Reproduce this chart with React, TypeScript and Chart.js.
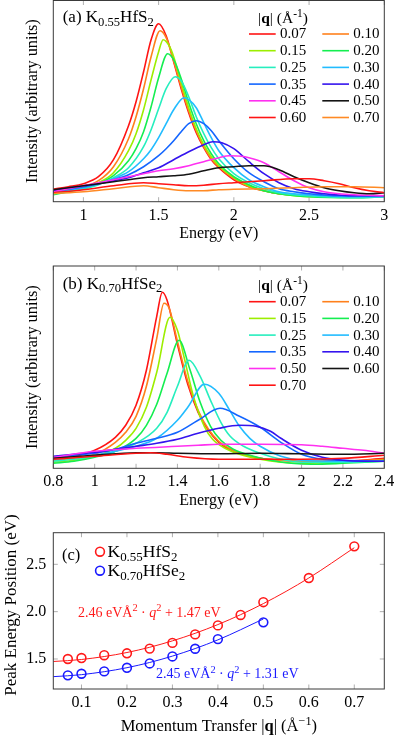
import React, { useEffect, useRef } from 'react';
import { Chart, registerables } from 'chart.js';
Chart.register(...registerables);

const FONT = '"Liberation Serif", "Times New Roman", serif';
const W = 399;
const H = 738;
const XH = 30;

// ---------- Panel (a) K0.55HfS2 : intensity (arb. units) vs energy (eV) ----------
const qLabelsA = ['0.07', '0.10', '0.15', '0.20', '0.25', '0.30', '0.35', '0.40', '0.45', '0.50', '0.60', '0.70'];
const colorsA = ['#ff1414', '#ff801c', '#9cee00', '#14ee50', '#26eebe', '#22bcff', '#1466ff', '#3414ee', '#ff30f0', '#141414', '#ff1414', '#ff8a24'];
const a_q007 = [[0.8,12.7],[0.9,15],[1.0,18],[1.1,25],[1.2,42],[1.3,76],[1.35,100],[1.4,130],[1.45,162],[1.5,178],[1.55,166],[1.6,140],[1.65,113],[1.7,89],[1.75,69],[1.8,54],[1.85,42],[1.9,34],[2.0,22],[2.1,15],[2.2,11],[2.3,8],[2.5,6],[2.8,5],[3.0,6]];
const a_q010 = [[0.8,10],[0.9,12.5],[1.0,15],[1.1,21],[1.2,35],[1.3,63],[1.35,85],[1.4,113],[1.45,145],[1.51,171],[1.55,164],[1.6,141],[1.65,115],[1.7,91],[1.75,71],[1.8,55],[1.85,43],[1.9,35],[2.0,23],[2.1,15],[2.2,11],[2.3,8],[2.5,6],[2.8,5],[3.0,6]];
const a_q015 = [[0.8,9],[0.9,11],[1.0,14],[1.1,19],[1.2,29],[1.3,51],[1.35,68],[1.4,92],[1.45,122],[1.5,150],[1.53,162],[1.57,156],[1.6,145],[1.65,119],[1.7,94],[1.75,73],[1.8,57],[1.85,45],[1.9,36],[2.0,24],[2.1,16],[2.2,11],[2.3,8],[2.5,5],[2.8,5],[3.0,6]];
const a_q020 = [[0.8,7],[0.9,10],[1.0,13],[1.1,18],[1.2,26],[1.3,41],[1.35,53],[1.4,70],[1.45,95],[1.5,124],[1.56,148],[1.6,142],[1.65,123],[1.7,99],[1.75,78],[1.8,61],[1.85,48],[1.9,38],[2.0,25],[2.1,17],[2.2,11],[2.3,8],[2.5,5],[2.8,4],[3.0,5]];
const a_q025 = [[0.8,8],[0.9,10.5],[1.0,13],[1.1,17],[1.2,24],[1.3,34],[1.4,55],[1.45,72],[1.5,93],[1.55,113],[1.61,125],[1.65,121],[1.7,105],[1.75,85],[1.8,68],[1.85,54],[1.9,43],[2.0,28],[2.1,19],[2.2,13],[2.3,9],[2.4,7],[2.6,5],[2.8,4],[3.0,5]];
const a_q030 = [[0.8,9],[0.9,11.5],[1.0,14],[1.1,18],[1.2,23],[1.3,30],[1.4,43],[1.45,52],[1.5,64],[1.55,78],[1.6,92],[1.67,104],[1.7,102],[1.75,94],[1.8,79],[1.85,64],[1.9,51],[2.0,34],[2.1,22],[2.2,15],[2.3,10],[2.4,8],[2.6,6],[2.8,5],[3.0,5]];
const a_q035 = [[0.8,10],[0.9,12.5],[1.0,15],[1.1,18],[1.2,22],[1.3,27],[1.4,35],[1.5,46],[1.55,53],[1.6,61],[1.65,70],[1.7,78],[1.75,81],[1.8,78],[1.85,71],[1.9,61],[2.0,43],[2.1,29],[2.2,20],[2.3,13],[2.4,10],[2.5,8],[2.7,6],[3.0,6]];
const a_q040 = [[0.8,11],[0.9,13.5],[1.0,16],[1.1,18],[1.2,21],[1.3,24],[1.4,29],[1.5,34],[1.6,42],[1.7,50],[1.8,57],[1.86,60],[1.92,59],[2.0,53],[2.1,40],[2.2,28],[2.3,19],[2.4,13],[2.5,10],[2.6,8],[2.8,6],[3.0,6]];
const a_q045 = [[0.8,10],[0.9,13],[1.0,16],[1.1,19],[1.2,22],[1.3,25],[1.4,28],[1.5,31],[1.6,33],[1.7,36],[1.8,40],[1.9,44],[1.97,46],[2.05,45.5],[2.1,44],[2.2,39],[2.3,30],[2.4,21],[2.5,14],[2.6,10],[2.7,8],[2.8,7],[3.0,6]];
const a_q050 = [[0.8,12],[0.9,14],[1.0,16],[1.1,18],[1.2,20],[1.3,22],[1.4,24],[1.5,25],[1.6,26],[1.7,27.5],[1.8,31],[1.9,34],[2.0,35],[2.1,36],[2.2,36],[2.3,32],[2.4,25],[2.5,19],[2.6,14],[2.7,11],[2.8,9],[2.9,8],[3.0,9]];
const a_q060 = [[0.8,9],[1.0,12],[1.2,16],[1.4,19],[1.5,18],[1.6,17],[1.7,16],[1.8,16.5],[1.9,18],[2.0,19],[2.2,21],[2.4,23],[2.5,23],[2.6,21],[2.7,18],[2.8,14],[2.9,11],[3.0,9]];
const a_q070 = [[0.8,8],[1.0,10],[1.2,13],[1.4,16],[1.5,14],[1.6,12],[1.7,11],[1.8,11],[1.9,12],[2.0,12.5],[2.2,13],[2.4,14],[2.6,15],[2.8,15],[3.0,14]];
const seriesA = [a_q007, a_q010, a_q015, a_q020, a_q025, a_q030, a_q035, a_q040, a_q045, a_q050, a_q060, a_q070];
const xTicksA = [1, 1.5, 2, 2.5, 3];

// ---------- Panel (b) K0.70HfSe2 ----------
const qLabelsB = ['0.07', '0.10', '0.15', '0.20', '0.25', '0.30', '0.35', '0.40', '0.50', '0.60', '0.70'];
const colorsB = ['#ff1414', '#ff801c', '#9cee00', '#14ee50', '#26eebe', '#22bcff', '#1466ff', '#3414ee', '#ff30f0', '#141414', '#ff1414'];
const b_q007 = [[0.8,10],[0.9,12],[1.0,18],[1.1,31],[1.15,43],[1.2,63],[1.25,98],[1.3,152],[1.327,176],[1.35,168],[1.4,124],[1.45,84],[1.5,56],[1.55,38],[1.6,26],[1.65,19],[1.7,15],[1.8,10],[1.9,8],[2.0,7],[2.2,7],[2.4,10]];
const b_q010 = [[0.8,8],[0.9,10],[1.0,14],[1.1,26],[1.15,36],[1.2,52],[1.25,82],[1.3,130],[1.335,165],[1.36,160],[1.4,127],[1.45,87],[1.5,58],[1.55,39],[1.6,27],[1.65,20],[1.7,15],[1.8,10],[1.9,8],[2.0,7],[2.2,7],[2.4,9]];
const b_q015 = [[0.8,6],[0.9,8],[1.0,12],[1.1,20],[1.15,28],[1.2,40],[1.25,61],[1.3,96],[1.364,151],[1.4,138],[1.43,113],[1.48,70],[1.53,42],[1.57,29],[1.64,19],[1.7,14],[1.8,9],[1.9,6],[2.0,5],[2.2,6],[2.4,8]];
const b_q020 = [[0.8,5],[0.9,7],[1.0,11],[1.1,17],[1.2,30],[1.25,43],[1.3,64],[1.35,95],[1.408,128],[1.46,99],[1.51,66],[1.56,42],[1.61,28],[1.67,19],[1.75,13],[1.85,8],[1.95,5],[2.05,4],[2.2,5],[2.4,7]];
const b_q025 = [[0.8,7],[0.9,9],[1.0,12],[1.1,17],[1.2,25],[1.3,40],[1.35,56],[1.4,82],[1.456,108],[1.51,92],[1.56,68],[1.61,46],[1.655,32],[1.72,22],[1.8,15],[1.9,9],[2.0,6],[2.2,6],[2.4,7]];
const b_q030 = [[0.8,9],[0.9,11],[1.0,13],[1.1,17],[1.2,22],[1.3,30],[1.4,48],[1.45,61],[1.53,84],[1.6,75],[1.65,59],[1.7,42],[1.75,30],[1.8,22],[1.9,12],[2.0,8],[2.2,7],[2.4,7]];
const b_q035 = [[0.8,11],[0.9,13],[1.0,15],[1.1,19],[1.2,25],[1.3,30],[1.4,36],[1.5,48],[1.606,60],[1.7,52],[1.8,41],[1.9,26],[2.0,14],[2.1,9],[2.2,8],[2.4,7]];
const b_q040 = [[0.8,12],[0.9,14],[1.0,16],[1.1,19],[1.2,22],[1.3,25],[1.4,29],[1.5,35],[1.6,40],[1.7,43],[1.78,42],[1.85,37],[1.9,30],[2.0,18],[2.1,11],[2.2,8],[2.3,7],[2.4,7]];
const b_q050 = [[0.8,11],[1.0,17],[1.2,20],[1.4,22],[1.5,23],[1.6,24],[1.8,24],[2.0,23.5],[2.1,22],[2.2,20],[2.3,18],[2.4,15]];
const b_q060 = [[0.8,10],[1.0,13],[1.2,15.5],[1.3,15.5],[1.4,15],[1.6,14.5],[1.8,15],[2.0,14.5],[2.2,14],[2.4,15]];
const b_q070 = [[0.8,9],[1.0,12],[1.2,15],[1.27,15.5],[1.35,14],[1.45,11],[1.6,9],[1.8,9],[2.0,9],[2.2,10],[2.4,13]];
const seriesB = [b_q007, b_q010, b_q015, b_q020, b_q025, b_q030, b_q035, b_q040, b_q050, b_q060, b_q070];
const xTicksB = [0.8, 1, 1.2, 1.4, 1.6, 1.8, 2, 2.2, 2.4];

// ---------- Panel (c) peak position vs momentum transfer ----------
const qS2 = [0.07, 0.10, 0.15, 0.20, 0.25, 0.30, 0.35, 0.40, 0.45, 0.50, 0.60, 0.70];
const peakS2 = [1.50, 1.51, 1.54, 1.56, 1.61, 1.67, 1.76, 1.855, 1.965, 2.10, 2.355, 2.69];
const qSe2 = [0.07, 0.10, 0.15, 0.20, 0.25, 0.30, 0.35, 0.40, 0.50];
const peakSe2 = [1.327, 1.344, 1.369, 1.407, 1.453, 1.527, 1.608, 1.71, 1.887];
const fitS2Q = [0.038, 0.1, 0.2, 0.3, 0.4, 0.5, 0.6, 0.7];
const fitS2E = [1.4736, 1.4946, 1.5684, 1.6914, 1.8636, 2.085, 2.3556, 2.6754];
const fitSe2Q = [0.038, 0.1, 0.2, 0.3, 0.4, 0.5];
const fitSe2E = [1.3135, 1.3345, 1.408, 1.5305, 1.702, 1.9225];
const xTicksC = [0.1, 0.2, 0.3, 0.4, 0.5, 0.6, 0.7];
const yTicksC = [1.5, 2.0, 2.5];

type Seg = { t: string; s?: 'n' | 'b' | 'i' | 'sub' | 'sup' };

function segFont(s: string | undefined, size: number) {
  if (s === 'b') return `bold ${size}px ${FONT}`;
  if (s === 'i') return `italic ${size}px ${FONT}`;
  if (s === 'sub' || s === 'sup') return `${size * 0.74}px ${FONT}`;
  return `${size}px ${FONT}`;
}

function drawRich(ctx: CanvasRenderingContext2D, segs: Seg[], x: number, y: number, size: number, color: string, align: 'left' | 'center') {
  ctx.save();
  ctx.textBaseline = 'alphabetic';
  ctx.textAlign = 'left';
  ctx.fillStyle = color;
  const widths = segs.map((sg) => { ctx.font = segFont(sg.s, size); return ctx.measureText(sg.t).width; });
  const total = widths.reduce((a, b) => a + b, 0);
  let cx = align === 'center' ? x - total / 2 : x;
  segs.forEach((sg, i) => {
    ctx.font = segFont(sg.s, size);
    let dy = 0;
    if (sg.s === 'sub') dy = size * 0.22;
    if (sg.s === 'sup') dy = -size * 0.38;
    ctx.fillText(sg.t, cx, y + dy);
    cx += widths[i];
  });
  ctx.restore();
}

function line(ctx: CanvasRenderingContext2D, x1: number, y1: number, x2: number, y2: number) {
  ctx.beginPath();
  ctx.moveTo(x1, y1);
  ctx.lineTo(x2, y2);
  ctx.stroke();
}

function drawFrame(chart: any, ctx: CanvasRenderingContext2D, xt: number[], yt: number[]) {
  const { left, right, top, bottom } = chart.chartArea;
  ctx.strokeStyle = '#9a9a9a';
  ctx.lineWidth = 0.8;
  xt.forEach((v) => {
    const px = chart.scales.x.getPixelForValue(v);
    line(ctx, px, bottom, px, bottom - 4.5);
    line(ctx, px, top, px, top + 4.5);
  });
  yt.forEach((v) => {
    const py = chart.scales.y.getPixelForValue(v);
    line(ctx, left, py, left + 4.5, py);
    line(ctx, right, py, right - 4.5, py);
  });
  ctx.strokeStyle = '#3a3a3a';
  ctx.lineWidth = 1;
  ctx.strokeRect(left, top, right - left, bottom - top);
}

function drawVertical(ctx: CanvasRenderingContext2D, text: string, x: number, y: number, size: number) {
  ctx.save();
  ctx.translate(x, y);
  ctx.rotate(-Math.PI / 2);
  ctx.font = `${size}px ${FONT}`;
  ctx.fillStyle = '#000';
  ctx.textAlign = 'center';
  ctx.textBaseline = 'middle';
  ctx.fillText(text, 0, 0);
  ctx.restore();
}

function drawQLegend(ctx: CanvasRenderingContext2D, labels: string[], colors: string[], titleY: number, row0Y: number) {
  drawRich(ctx, [{ t: '|' }, { t: 'q', s: 'b' }, { t: '| (Å' }, { t: '-1', s: 'sup' }, { t: ')' }], 283, titleY + 5, 15.5, '#000', 'center');
  labels.forEach((lab, i) => {
    const col = i % 2;
    const row = Math.floor(i / 2);
    const y = row0Y + row * 16.7;
    const x0 = col === 0 ? 249 : 322.3;
    ctx.strokeStyle = colors[i];
    ctx.lineWidth = 1.6;
    line(ctx, x0, y, x0 + 26.7, y);
    ctx.fillStyle = '#000';
    ctx.font = `15px ${FONT}`;
    ctx.textBaseline = 'middle';
    ctx.textAlign = 'left';
    ctx.fillText(lab, x0 + 31, y + 0.5);
  });
}

const fmt = (v: number) => String(+Number(v).toFixed(2));

type Plot = { left: number; right: number; top: number; bottom: number };

function spectrumConfig(series: number[][][], colors: string[], xmin: number, xmax: number, xticks: number[], plot: Plot, draw: (chart: any, ctx: CanvasRenderingContext2D) => void) {
  const ymax = plot.bottom - plot.top;
  return {
    type: 'line',
    data: {
      datasets: series.map((pts, i) => ({
        data: pts.map(([x, y]) => ({ x, y })),
        borderColor: colors[i],
        borderWidth: 1.6,
        pointRadius: 0,
        fill: false,
        cubicInterpolationMode: 'monotone',
        order: -i,
      })),
    },
    options: {
      animation: false,
      responsive: false,
      events: [],
      layout: { padding: { left: 0, right: W - plot.right, top: plot.top, bottom: H - plot.bottom - XH } },
      plugins: { legend: { display: false }, tooltip: { enabled: false } },
      scales: {
        x: {
          type: 'linear', min: xmin, max: xmax,
          grid: { display: false, drawTicks: false }, border: { display: false },
          ticks: { font: { family: FONT, size: 16 }, color: '#000', padding: 4, maxRotation: 0, autoSkip: false, callback: (v: number) => fmt(v) },
          afterBuildTicks: (s: any) => { s.ticks = xticks.map((v) => ({ value: v })); },
          afterFit: (s: any) => { s.height = XH; },
        },
        y: {
          type: 'linear', min: 0, max: ymax,
          grid: { display: false, drawTicks: false }, border: { display: false },
          ticks: { display: false },
          afterFit: (s: any) => { s.width = plot.left; },
        },
      },
    },
    plugins: [{ id: 'deco', afterDraw: (chart: any) => { const ctx = chart.ctx; ctx.save(); draw(chart, ctx); ctx.restore(); } }],
  };
}

const plotA: Plot = { left: 53.3, right: 384.3, top: 0.5, bottom: 201.7 };
const plotB: Plot = { left: 53.3, right: 384.3, top: 266, bottom: 468.3 };
const plotC: Plot = { left: 53.3, right: 384.3, top: 532.7, bottom: 689 };

function makeA() {
  return spectrumConfig(seriesA, colorsA, 0.8, 3, xTicksA, plotA, (chart, ctx) => {
    const ca = chart.chartArea;
    drawFrame(chart, ctx, xTicksA, []);
    drawRich(ctx, [{ t: '(a) K' }, { t: '0.55', s: 'sub' }, { t: 'HfS' }, { t: '2', s: 'sub' }], 62.7, 22, 17, '#000', 'left');
    drawQLegend(ctx, qLabelsA, colorsA, 18, 34);
    drawRich(ctx, [{ t: 'Energy (eV)' }], (ca.left + ca.right) / 2, 238, 16, '#000', 'center');
    drawVertical(ctx, 'Intensity (arbitrary units)', 33, (ca.top + ca.bottom) / 2, 16.3);
  });
}

function makeB() {
  return spectrumConfig(seriesB, colorsB, 0.8, 2.4, xTicksB, plotB, (chart, ctx) => {
    const ca = chart.chartArea;
    drawFrame(chart, ctx, xTicksB, []);
    drawRich(ctx, [{ t: '(b) K' }, { t: '0.70', s: 'sub' }, { t: 'HfSe' }, { t: '2', s: 'sub' }], 62.7, 288.5, 17, '#000', 'left');
    drawQLegend(ctx, qLabelsB, colorsB, 285, 301.7);
    drawRich(ctx, [{ t: 'Energy (eV)' }], (ca.left + ca.right) / 2, 505, 16, '#000', 'center');
    drawVertical(ctx, 'Intensity (arbitrary units)', 33, (ca.top + ca.bottom) / 2, 16.3);
  });
}

function makeC() {
  const red = '#ff1a1a';
  const blue = '#1a1aff';
  const pts = (xs: number[], ys: number[]) => xs.map((x, i) => ({ x, y: ys[i] }));
  return {
    type: 'line',
    data: {
      datasets: [
        { data: pts(fitS2Q, fitS2E), borderColor: red, borderWidth: 1, pointRadius: 0, cubicInterpolationMode: 'monotone', fill: false },
        { data: pts(fitSe2Q, fitSe2E), borderColor: blue, borderWidth: 1, pointRadius: 0, cubicInterpolationMode: 'monotone', fill: false },
        { data: pts(qS2, peakS2), showLine: false, borderColor: red, backgroundColor: 'rgba(0,0,0,0)', pointRadius: 4.4, pointBorderWidth: 1.6, pointStyle: 'circle' },
        { data: pts(qSe2, peakSe2), showLine: false, borderColor: blue, backgroundColor: 'rgba(0,0,0,0)', pointRadius: 4.4, pointBorderWidth: 1.6, pointStyle: 'circle' },
      ],
    },
    options: {
      animation: false,
      responsive: false,
      events: [],
      layout: { padding: { left: 0, right: W - plotC.right, top: plotC.top, bottom: H - plotC.bottom - XH } },
      plugins: { legend: { display: false }, tooltip: { enabled: false } },
      scales: {
        x: {
          type: 'linear', min: 0.038, max: 0.766,
          grid: { display: false, drawTicks: false }, border: { display: false },
          ticks: { font: { family: FONT, size: 16 }, color: '#000', padding: 4, maxRotation: 0, autoSkip: false, callback: (v: number) => Number(v).toFixed(1) },
          afterBuildTicks: (s: any) => { s.ticks = xTicksC.map((v) => ({ value: v })); },
          afterFit: (s: any) => { s.height = XH; },
        },
        y: {
          type: 'linear', min: 1.183, max: 2.834,
          grid: { display: false, drawTicks: false }, border: { display: false },
          ticks: { font: { family: FONT, size: 16 }, color: '#000', padding: 7, callback: (v: number) => Number(v).toFixed(1) },
          afterBuildTicks: (s: any) => { s.ticks = yTicksC.map((v) => ({ value: v })); },
          afterFit: (s: any) => { s.width = plotC.left; },
        },
      },
    },
    plugins: [{
      id: 'decoC',
      afterDraw: (chart: any) => {
        const ctx = chart.ctx as CanvasRenderingContext2D;
        ctx.save();
        const ca = chart.chartArea;
        drawFrame(chart, ctx, xTicksC, yTicksC);
        drawRich(ctx, [{ t: '(c)' }], 62, 560, 16.5, '#000', 'left');
        ctx.lineWidth = 1.6;
        ctx.strokeStyle = red;
        ctx.beginPath(); ctx.arc(100, 551.7, 4.4, 0, Math.PI * 2); ctx.stroke();
        ctx.strokeStyle = blue;
        ctx.beginPath(); ctx.arc(100, 570.7, 4.4, 0, Math.PI * 2); ctx.stroke();
        drawRich(ctx, [{ t: 'K' }, { t: '0.55', s: 'sub' }, { t: 'HfS' }, { t: '2', s: 'sub' }], 107.5, 557, 17.5, '#000', 'left');
        drawRich(ctx, [{ t: 'K' }, { t: '0.70', s: 'sub' }, { t: 'HfSe' }, { t: '2', s: 'sub' }], 107.5, 576, 17.5, '#000', 'left');
        drawRich(ctx, [{ t: '2.46 eVÅ' }, { t: '2', s: 'sup' }, { t: ' · ' }, { t: 'q', s: 'i' }, { t: '2', s: 'sup' }, { t: ' + 1.47 eV' }], 78, 616.5, 14, red, 'left');
        drawRich(ctx, [{ t: '2.45 eVÅ' }, { t: '2', s: 'sup' }, { t: ' · ' }, { t: 'q', s: 'i' }, { t: '2', s: 'sup' }, { t: ' + 1.31 eV' }], 156, 678, 14, blue, 'left');
        drawRich(ctx, [{ t: 'Momentum Transfer |' }, { t: 'q', s: 'b' }, { t: '| (Å' }, { t: '−1', s: 'sup' }, { t: ')' }], (ca.left + ca.right) / 2, 731, 16.5, '#000', 'center');
        drawVertical(ctx, 'Peak Energy Position (eV)', 12, 605, 17);
        ctx.restore();
      },
    }],
  };
}

function PanelChart({ make }: { make: () => any }) {
  const ref = useRef<HTMLCanvasElement>(null);
  useEffect(() => {
    const chart = new Chart(ref.current as HTMLCanvasElement, make());
    return () => chart.destroy();
  }, [make]);
  return <canvas ref={ref} width={W} height={H} style={{ position: 'absolute', left: 0, top: 0, width: W, height: H }} />;
}

export default function App() {
  return (
    <div style={{ position: 'fixed', left: 0, top: 0, width: W, height: H, background: '#fff', overflow: 'hidden' }}>
      <PanelChart make={makeA} />
      <PanelChart make={makeB} />
      <PanelChart make={makeC} />
    </div>
  );
}
